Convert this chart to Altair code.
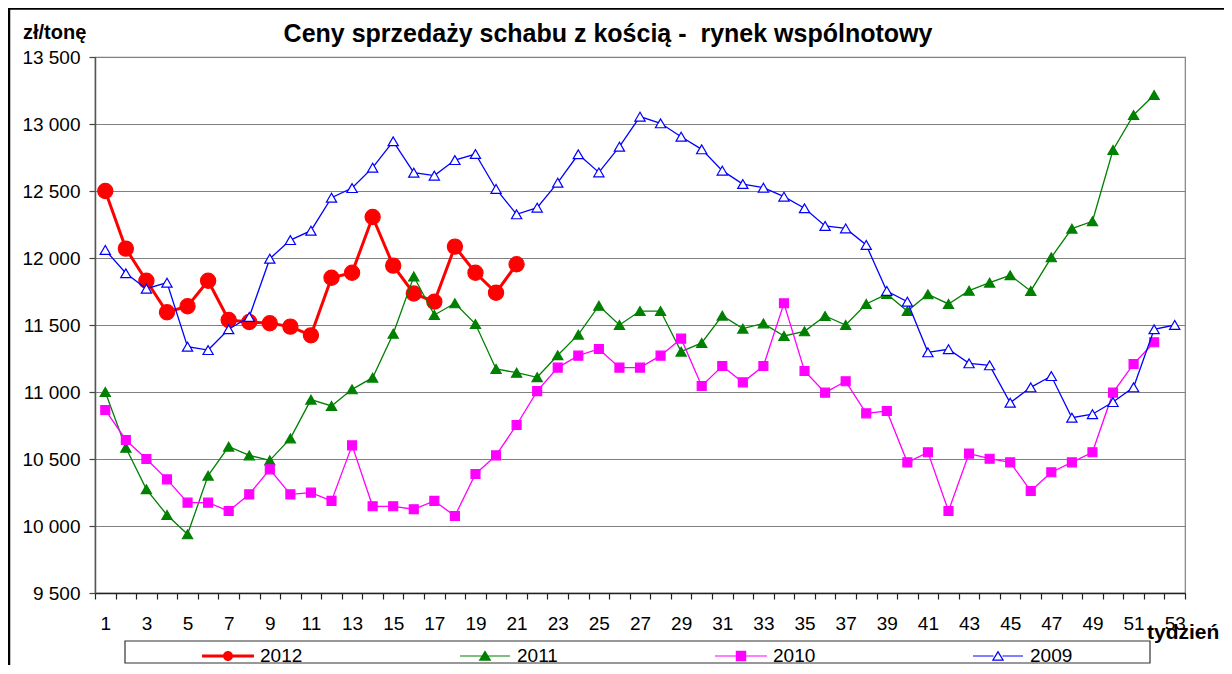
import altair as alt
import pandas as pd

# ---------------- data ----------------
YEARS = ["2012", "2011", "2010", "2009"]

WEEKS_2012 = list(range(1, 22))
VAL_2012 = [12500, 12070, 11830, 11595, 11640, 11830, 11537, 11522, 11513, 11488,
            11423, 11853, 11890, 12306, 11943, 11735, 11674, 12085, 11890, 11741,
            11953]

WEEKS_2011 = list(range(1, 53))
VAL_2011 = [11000, 10584, 10274, 10082, 9938, 10376, 10592, 10527, 10490, 10654,
            10943, 10896, 11020, 11107, 11435, 11862, 11575, 11662, 11507, 11172,
            11144, 11110, 11274, 11428, 11644, 11500, 11604, 11604, 11301, 11366,
            11570, 11473, 11512, 11418, 11453, 11567, 11500, 11657, 11731, 11604,
            11729, 11657, 11756, 11816, 11871, 11754, 12005, 12219, 12274, 12806,
            13067, 13216]

WEEKS_2010 = list(range(1, 53))
VAL_2010 = [10866, 10642, 10500, 10348, 10174, 10174, 10112, 10236, 10423, 10236,
            10249, 10187, 10602, 10147, 10147, 10125, 10187, 10075, 10388, 10527,
            10754, 11007, 11182, 11271, 11321, 11182, 11182, 11271, 11398, 11045,
            11194, 11072, 11194, 11662, 11157, 10995, 11080, 10841, 10858, 10475,
            10550, 10112, 10540, 10502, 10475, 10261, 10401, 10475, 10550, 10995,
            11209, 11371]

WEEKS_2009 = list(range(1, 54))
VAL_2009 = [12060, 11886, 11771, 11816, 11338, 11313, 11468, 11560, 11995, 12134,
            12204, 12450, 12522, 12674, 12871, 12637, 12615, 12731, 12776, 12515,
            12326, 12376, 12562, 12774, 12639, 12831, 13055, 13005, 12905, 12811,
            12652, 12552, 12525, 12458, 12371, 12239, 12221, 12097, 11754, 11674,
            11296, 11319, 11214, 11199, 10920, 11035, 11119, 10808, 10834, 10925,
            11035, 11468, 11500]

SERIES = {
    "2012": (WEEKS_2012, VAL_2012),
    "2011": (WEEKS_2011, VAL_2011),
    "2010": (WEEKS_2010, VAL_2010),
    "2009": (WEEKS_2009, VAL_2009),
}

X_TICKS = [w + 0.5 for w in range(0, 54)]      # category boundaries
Y_TICKS = list(range(9500, 13501, 500))

TITLE = "Ceny sprzedaży schabu z kością -\u00a0 rynek wspólnotowy"
Y_TITLE = "zł/tonę"
X_TITLE = "tydzień"

# ---------------- styles ----------------
FONT = "Liberation Sans"
W, H = 1090, 536
BAND = W / 53.0

STYLE = {
    "2012": dict(color="#ff0000", width=3.0, shape="circle", size=230, fill="#ff0000"),
    "2011": dict(color="#008000", width=1.3, shape="triangle-up", size=105, fill="#008000"),
    "2010": dict(color="#ff00ff", width=1.3, shape="square", size=80, fill="#ff00ff"),
    "2009": dict(color="#0000ff", width=1.3, shape="triangle-up", size=105, fill="#ffffff"),
}

# legend symbols: line + marker, all drawn as filled shapes (1 unit = 10 px)
LEG_PATHS = [
    "M-2.6,-0.15H2.6V0.15H-2.6Z"
    "M-0.5,0A0.5,0.5,0,1,1,0.5,0A0.5,0.5,0,1,1,-0.5,0Z",
    "M-2.5,-0.06H2.5V0.06H-2.5Z"
    "M0,-0.58L0.64,0.48L-0.64,0.48Z",
    "M-2.6,-0.06H2.6V0.06H-2.6Z"
    "M-0.52,-0.52H0.52V0.52H-0.52Z",
    "M-2.5,-0.06H-0.45V0.06H-2.5Z"
    "M0.45,-0.06H2.5V0.06H0.45Z"
    "M0,-0.55L0.62,0.48L-0.62,0.48Z"
    "M0,-0.31L-0.40,0.36L0.40,0.36Z",
]

x_scale = alt.Scale(domain=[0.5, 53.5], nice=False, zero=False)
y_scale = alt.Scale(domain=[9500, 13500], nice=False, zero=False)

x_axis = alt.Axis(
    values=X_TICKS, title=None, grid=False,
    labelExpr="((datum.value + 0.5) % 2 == 1 && datum.value < 53) ? '' + (datum.value + 0.5) : ''",
    labelOffset=BAND / 2, labelFlush=False, labelOverlap=False,
    labelFont=FONT, labelFontSize=19, labelColor="black", labelPadding=15,
    tickSize=6, tickColor="#222222", tickWidth=1.2,
    domainColor="#222222", domainWidth=1.5,
)
y_axis = alt.Axis(
    values=Y_TICKS, title=None, grid=True, gridColor="#808080", gridWidth=1.1,
    labelExpr="replace(format(datum.value, ','), ',', ' ')",
    labelFont=FONT, labelFontSize=19, labelColor="black", labelPadding=9,
    tickSize=6, tickColor="#444444", tickWidth=1.2,
    domainColor="#555555", domainWidth=1.5,
)

layers = []

# decorations: outer frame
one = pd.DataFrame({"k": [0]})
layers.append(alt.Chart(one).mark_rule(color="black", strokeWidth=2.5).encode(
    x=alt.value(-87), x2=alt.value(1135), y=alt.value(-48.5)))
layers.append(alt.Chart(one).mark_rule(color="black", strokeWidth=2.5).encode(
    x=alt.value(-86), y=alt.value(-49), y2=alt.value(620)))

for yr in YEARS:
    wk, vals = SERIES[yr]
    st = STYLE[yr]
    df = pd.DataFrame({"week": wk, "value": vals, "year": yr})
    base = alt.Chart(df).encode(
        x=alt.X("week:Q", scale=x_scale, axis=x_axis),
        y=alt.Y("value:Q", scale=y_scale, axis=y_axis),
        order="week:Q",
    )
    layers.append(base.mark_line(color=st["color"], strokeWidth=st["width"]))
    layers.append(base.mark_point(shape=st["shape"], size=st["size"], filled=True,
                                  fill=st["fill"], stroke=st["color"],
                                  strokeWidth=1.2, opacity=1))

# legend (built from the legend entries through Vega-Lite's own legend);
# the carrier points of this layer sit outside the drawing area.
leg = alt.Legend(
    orient="none", legendX=123, legendY=589, direction="horizontal", title=None,
    symbolSize=400, symbolStrokeWidth=0, symbolOpacity=1, labelFont=FONT, labelFontSize=19,
    labelColor="black", labelOffset=22, columnPadding=157, padding=0,
)
legend_df = pd.DataFrame({"year": YEARS})
layers.append(alt.Chart(legend_df).mark_point(filled=True, opacity=1, strokeWidth=0,
                                              clip=True).encode(
    x=alt.value(-3000), y=alt.value(-3000),
    shape=alt.Shape("year:N", scale=alt.Scale(domain=YEARS, range=LEG_PATHS), legend=leg),
    color=alt.Color("year:N", scale=alt.Scale(domain=YEARS,
                    range=[STYLE[y]["color"] for y in YEARS]), legend=leg),
))

# legend box
layers.append(alt.Chart(one).mark_rect(fill=None, stroke="#333333", strokeWidth=1.2).encode(
    x=alt.value(30), x2=alt.value(1055), y=alt.value(584), y2=alt.value(606)))

# texts
layers.append(alt.Chart(pd.DataFrame({"t": [TITLE]})).mark_text(
    font=FONT, fontSize=25, fontWeight="bold", align="center", baseline="alphabetic",
    color="black").encode(x=alt.value(513), y=alt.value(-15), text="t:N"))
layers.append(alt.Chart(pd.DataFrame({"t": [Y_TITLE]})).mark_text(
    font=FONT, fontSize=20, fontWeight="bold", align="left", baseline="alphabetic",
    color="black").encode(x=alt.value(-72), y=alt.value(-18), text="t:N"))
layers.append(alt.Chart(pd.DataFrame({"t": [X_TITLE]})).mark_text(
    font=FONT, fontSize=21, fontWeight="bold", align="left", baseline="alphabetic",
    color="black").encode(x=alt.value(1052), y=alt.value(582), text="t:N"))

chart = alt.layer(*layers).properties(
    width=W, height=H,
    autosize=alt.AutoSizeParams(type="none"),
    padding={"left": 87, "top": 49, "right": 39, "bottom": 72},
    background="white",
).configure_view(stroke="#808080", strokeWidth=1.2)

chart.save("out.html", embed_options={"renderer": "svg", "actions": False})
